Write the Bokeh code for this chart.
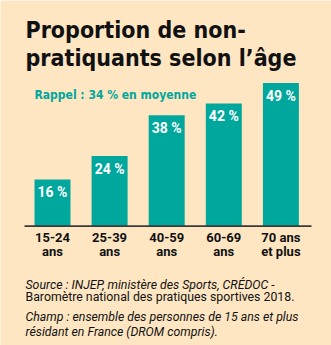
from bokeh.plotting import figure
from bokeh.models import Range1d, ColumnDataSource
from bokeh.core.properties import value
from bokeh.embed import file_html
from bokeh.resources import INLINE

# ---- data ----
categories = ["15-24\nans", "25-39\nans", "40-59\nans", "60-69\nans", "70 ans\net plus"]
values = [16, 24, 38, 42, 49]
value_labels = [f"{v} %" for v in values]
title_lines = ["Proportion de non-", "pratiquants selon l\u2019\u00e2ge"]
subtitle = "Rappel : 34 % en moyenne"
source_lines = [
    ("Source : INJEP, minist\u00e8re des Sports, CR\u00c9DOC -", "italic"),
    ("Barom\u00e8tre national des pratiques sportives 2018.", "normal"),
    ("Champ : ensemble des personnes de 15 ans et plus", "italic"),
    ("r\u00e9sidant en France (DROM compris).", "italic"),
]

# ---- layout helpers (pixel -> data) ----
W, H = 331, 345
BASE_PX = 225.6     # pixel row of value 0
PX_PER_UNIT = 2.92  # pixels per percent
X0_PX = 52.0        # centre of first bar
STEP_PX = 57.1      # distance between bars

def px2x(px):
    return (px - X0_PX) / STEP_PX

def px2y(py):
    return (BASE_PX - py) / PX_PER_UNIT

BG = "#FEE6C3"
TEAL = "#00A79D"
FONT = value("Roboto")
HEAD = value("DejaVu Sans Condensed")

p = figure(width=W, height=H, output_backend="svg", toolbar_location=None,
           x_range=Range1d(px2x(0), px2x(W)), y_range=Range1d(px2y(H), px2y(0)),
           x_axis_type=None, y_axis_type=None, min_border=0,
           background_fill_color=BG, border_fill_color=BG, outline_line_color=None)
p.grid.visible = False

idx = list(range(len(values)))
src = ColumnDataSource(dict(x=idx, top=values, lab=value_labels, cat=categories))

p.vbar(x="x", top="top", bottom=0, width=36 / STEP_PX, source=src,
       fill_color=TEAL, line_color=None)

# baseline
p.segment(x0=[px2x(24)], x1=[px2x(311)], y0=[0], y1=[0], line_color="#3a3a3a", line_width=1.6)

# value labels inside bars
p.text(x="x", y="top", text="lab", source=src, text_align="center", text_baseline="middle",
       y_offset=12.5, text_font=FONT, text_font_style="bold", text_font_size="14px",
       text_color="white")

# category labels
p.text(x="x", y=px2y(244), text="cat", source=src, text_align="center",
       text_baseline="alphabetic", text_font=FONT, text_font_style="bold",
       text_font_size="13px", text_color="#111111", text_line_height=0.98)

# title
for i, line in enumerate(title_lines):
    p.text(x=[px2x(25)], y=[px2y(29.3 + 27.7 * i)], text=[line], text_align="left",
           text_baseline="alphabetic", text_font=HEAD, text_font_style="bold",
           text_font_size="23px", text_color="#111111")

# subtitle
p.text(x=[px2x(34)], y=[px2y(94.3)], text=[subtitle], text_align="left",
       text_baseline="alphabetic", text_font=HEAD, text_font_style="bold",
       text_font_size="12px", text_color=TEAL)

# source
src_baselines = [284, 296.7, 316.7, 331.7]
for (line, style), b in zip(source_lines, src_baselines):
    p.text(x=[px2x(25)], y=[px2y(b)], text=[line], text_align="left",
           text_baseline="alphabetic", text_font=FONT, text_font_style=style,
           text_font_size="12.3px", text_color="#111111")

open("out.html", "w").write(file_html(p, INLINE))
